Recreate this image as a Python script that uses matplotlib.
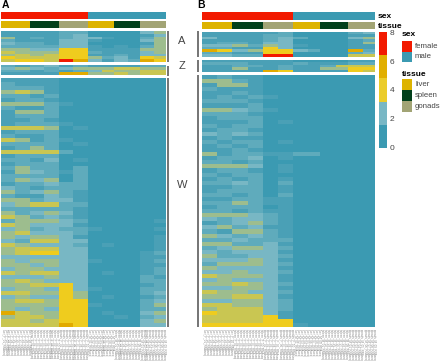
import matplotlib
matplotlib.use("Agg")
import matplotlib.pyplot as plt
import numpy as np
from matplotlib.colors import LinearSegmentedColormap, ListedColormap

plt.rcParams['font.family'] = ['Liberation Sans', 'DejaVu Sans']

W, H = 440, 363

zissou = ["#3B9AB2", "#78B7C5", "#EBCC2A", "#E1AF00", "#F21A00"]
sex_cores = {"female": "#F21A00", "male": "#3B9AB2"}
tissue_cores = {"liver": "#DDB300", "spleen": "#02401B", "gonads": "#A2A475"}

sexes = ["female", "female", "female", "male", "male", "male"]
tissues = ["liver", "spleen", "gonads", "liver", "spleen", "gonads"]
amostras = [10, 10, 10, 9, 9, 9]
escala = [0, 2, 4, 6, 8]

# cada linha: 2 celulas por grupo (liver, spleen, gonads | liver, spleen, gonads)
a_A = ["11 11 22 00 00 34", "11 11 23 00 00 13", "41 21 23 31 00 24", "21 11 33 10 00 34",
       "32 21 33 00 00 14", "22 22 33 10 10 24", "44 33 66 11 11 44", "54 44 66 21 11 34",
       "45 45 66 11 21 33", "65 55 66 42 31 65", "56 65 87 31 32 76"]
a_Z = ["21 23 12 11 11 22", "34 32 34 44 55 44", "22 12 12 35 44 55", "11 11 77 44 54 55"]
a_W = ["11 11 00 00 00 00", "21 11 00 00 00 00", "22 21 00 00 00 00", "45 41 00 00 00 00",
       "22 12 00 00 00 00", "12 21 00 00 00 00", "44 42 10 00 00 00", "21 12 00 00 00 00",
       "14 42 00 00 00 00", "12 22 00 00 00 00", "11 21 00 00 00 00", "12 22 10 00 00 00",
       "55 54 01 00 00 00", "12 22 00 00 00 00", "21 12 00 00 00 00", "54 12 10 00 00 00",
       "22 22 01 00 00 00", "12 42 00 00 00 00", "55 55 20 00 00 00", "12 22 00 00 00 00",
       "22 13 01 00 00 00", "12 22 00 00 00 00", "24 22 02 00 00 00", "14 32 12 00 00 00",
       "22 22 02 00 00 00", "24 34 02 00 00 00", "12 23 22 00 00 00", "32 12 22 00 00 00",
       "42 34 21 00 00 00", "21 13 21 00 00 00", "44 23 31 00 00 00", "34 55 22 00 00 00",
       "22 22 21 00 00 00", "42 34 31 00 00 00", "54 23 21 00 00 00", "24 44 32 00 00 01",
       "54 33 31 00 00 00", "34 23 22 10 00 01", "45 33 32 00 00 00", "43 44 31 00 00 01",
       "32 55 33 00 00 01", "54 33 32 01 00 01", "45 55 33 00 00 01", "45 66 33 00 00 12",
       "33 33 33 00 00 11", "43 44 33 10 00 12", "44 34 33 00 00 11", "34 43 33 00 00 12",
       "54 55 33 01 00 12", "33 34 33 00 00 21", "45 43 33 00 00 22", "44 55 63 00 00 12",
       "34 43 63 10 00 22", "55 44 64 00 00 23", "34 33 64 01 00 12", "45 54 66 00 00 23",
       "44 44 66 10 00 24", "43 43 66 00 00 22", "75 44 66 01 00 34", "45 54 66 00 10 23",
       "55 45 66 00 00 34", "55 55 76 00 00 33"]

b_A = ["11 11 12 00 00 23", "11 11 22 00 00 11", "31 11 23 20 00 34", "11 11 23 00 00 12",
       "12 21 33 00 00 14", "33 42 43 10 00 11", "22 11 63 00 00 11", "76 34 66 32 00 72",
       "22 11 66 00 00 23", "33 22 88 00 00 55"]
b_Z = ["11 11 11 00 00 11", "22 21 11 21 11 22", "11 22 12 11 25 55", "11 41 12 11 44 66",
       "11 11 76 11 11 65"]
b_W = ["12 11 00 00 00 00", "44 21 00 00 00 00", "14 41 00 00 00 00", "21 11 00 00 00 00",
       "11 21 00 00 00 00", "12 12 10 00 00 00", "22 21 00 00 00 00", "11 12 00 00 00 00",
       "44 32 10 00 00 00", "22 21 00 00 00 00", "12 22 00 00 00 00", "11 12 01 00 00 00",
       "21 22 00 00 00 00", "12 21 00 00 00 00", "32 32 00 00 00 00", "12 11 00 00 00 00",
       "21 22 01 00 00 00", "12 12 00 00 00 00", "11 21 00 00 00 00", "41 22 11 22 00 00",
       "12 23 01 00 00 00", "22 12 00 00 00 00", "44 43 01 00 00 00", "12 21 01 00 00 00",
       "21 22 00 00 00 00", "12 12 01 00 00 00", "22 32 02 00 00 00", "11 22 01 00 00 00",
       "12 22 01 00 00 00", "22 12 02 00 00 00", "11 22 11 00 00 00", "22 42 11 00 00 00",
       "12 22 01 00 00 00", "22 12 11 00 00 00", "44 43 21 00 00 00", "32 33 21 00 00 00",
       "12 34 21 00 00 00", "34 23 11 00 00 00", "21 44 21 00 00 00", "43 23 21 00 00 00",
       "22 32 22 00 00 00", "44 22 31 00 00 00", "23 44 32 00 00 00", "32 33 31 00 00 00",
       "42 23 32 00 00 00", "33 34 31 00 00 00", "24 44 32 00 00 00", "43 33 31 00 00 00",
       "33 43 32 00 00 00", "54 44 31 00 00 00", "34 33 31 00 00 00", "44 54 32 00 00 00",
       "33 44 31 00 00 00", "54 43 32 00 00 00", "44 55 31 00 00 00", "33 44 32 00 00 00",
       "55 44 32 00 00 00", "45 55 32 00 00 00", "65 55 31 00 00 00", "55 55 61 00 00 00",
       "55 55 66 00 00 00", "66 66 66 10 00 00"]

# escala suave: a imagem original mistura as linhas finas de teal e amarelo
cmap_calor = LinearSegmentedColormap.from_list(
    "calor", [(0, zissou[0]), (1 / 8, "#4AA0B6"), (2 / 8, "#5FABBC"), (3 / 8, zissou[1]),
              (4 / 8, "#9DBD8F"), (5 / 8, "#C9C654"), (6 / 8, "#F0CD1F"), (7 / 8, zissou[3]),
              (1, zissou[4])])

sub = []
for n in amostras:
    sub += [n - n // 2, n // 2]


def eixo(fig, x0, y0, x1, y1):
    ax = fig.add_axes([x0 / W, 1 - y1 / H, (x1 - x0) / W, (y1 - y0) / H])
    ax.set_xticks([])
    ax.set_yticks([])
    for s in ax.spines.values():
        s.set_visible(False)
    return ax


def banda(fig, linhas, x0, y0, x1, y1):
    m = np.array([[int(c) for c in l.replace(" ", "")] for l in linhas])
    m = np.repeat(m, sub, axis=1)
    ax = eixo(fig, x0, y0, x1, y1)
    ax.imshow(m, cmap=cmap_calor, vmin=0, vmax=8, aspect='auto', interpolation='nearest')


def anotacao(fig, nomes, cores, x0, y0, x1, y1):
    chaves = list(cores)
    cod = np.repeat([chaves.index(n) for n in nomes], amostras)[None, :]
    ax = eixo(fig, x0, y0, x1, y1)
    ax.imshow(cod, cmap=ListedColormap([cores[k] for k in chaves]), vmin=0, vmax=len(chaves) - 1,
              aspect='auto', interpolation='nearest')


def nomes_colunas(fig, x0, x1, y):
    cols = []
    for s, t, n in zip(sexes, tissues, amostras):
        cols += [f"{t}_{s[0].upper()}_{i + 1:02d}_RNAseq" for i in range(n)]
    passo = (x1 - x0) / len(cols)
    for i, c in enumerate(cols):
        fig.text((x0 + (i + 0.5) * passo) / W, 1 - y / H, c, rotation=270, fontsize=2.2,
                 color='#888888', ha='center', va='top')


fig = plt.figure(figsize=(W / 100, H / 100), dpi=100)

# painel A
anotacao(fig, sexes, sex_cores, 1, 12, 165, 19)
anotacao(fig, tissues, tissue_cores, 1, 21, 165, 28)
banda(fig, a_A, 1, 31, 165, 62)
banda(fig, a_Z, 1, 65, 165, 75)
banda(fig, a_W, 1, 78, 165, 327)
nomes_colunas(fig, 1, 165, 329)

# painel B
anotacao(fig, sexes, sex_cores, 202, 12, 375, 20)
anotacao(fig, tissues, tissue_cores, 202, 22, 375, 29)
banda(fig, b_A, 202, 32, 375, 57)
banda(fig, b_Z, 202, 60, 375, 72)
banda(fig, b_W, 202, 75, 375, 327)
nomes_colunas(fig, 202, 375, 329)

# barras cinza e letras dos cromossomos
for x0, y0, x1, y1 in [(167, 31, 169, 62), (167, 66, 169, 76), (167, 78, 169, 327),
                       (197, 31, 199, 57), (197, 60, 199, 72), (197, 75, 199, 327)]:
    ax = eixo(fig, x0, y0, x1, y1)
    ax.set_facecolor('#777777')
for nome, y in [("A", 41), ("Z", 66), ("W", 185)]:
    fig.text(182 / W, 1 - y / H, nome, fontsize=8, color='#444444', ha='center', va='center')

fig.text(2 / W, 1 - 5 / H, "A", fontsize=7.5, fontweight='bold', ha='left', va='center')
fig.text(197 / W, 1 - 5 / H, "B", fontsize=7.5, fontweight='bold', ha='left', va='center')
fig.text(378 / W, 1 - 16.5 / H, "sex", fontsize=6, fontweight='bold', ha='left', va='center')
fig.text(378 / W, 1 - 26 / H, "tissue", fontsize=6, fontweight='bold', ha='left', va='center')

# barra de cores
ax = eixo(fig, 379, 32, 387, 148)
ax.imshow(np.arange(5)[::-1, None], cmap=ListedColormap(zissou), aspect='auto',
          extent=[0, 1, 0, 8.1], interpolation='nearest')
for v in escala:
    fig.text(392 / W, 1 - (148 - v * 14.3) / H, str(v), fontsize=6, color='#444444',
             ha='center', va='center')

# legendas
fig.text(402 / W, 1 - 35 / H, "sex", fontsize=6, fontweight='bold', ha='left', va='center')
for i, nome in enumerate(sex_cores):
    ax = eixo(fig, 402, 41 + i * 10.5, 412, 51.5 + i * 10.5)
    ax.set_facecolor(sex_cores[nome])
    fig.text(415 / W, 1 - (46 + i * 11) / H, nome, fontsize=5.6, color='#444444', ha='left', va='center')
fig.text(402 / W, 1 - 74 / H, "tissue", fontsize=6, fontweight='bold', ha='left', va='center')
for i, nome in enumerate(tissue_cores):
    ax = eixo(fig, 402, 79 + i * 11, 412, 90 + i * 11)
    ax.set_facecolor(tissue_cores[nome])
    fig.text(415 / W, 1 - (84.5 + i * 11) / H, nome, fontsize=5.6, color='#444444', ha='left', va='center')

fig.savefig("out.png", dpi=100)
